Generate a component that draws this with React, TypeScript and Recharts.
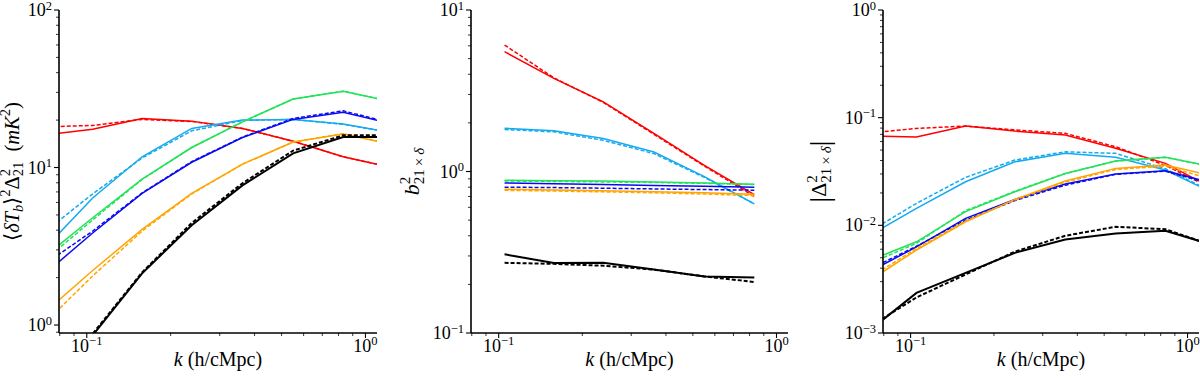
import React from "react"
import { LineChart, Line, XAxis, YAxis } from "recharts"

// k grid (h/cMpc)
const K_FULL = [0.0695, 0.105, 0.158, 0.238, 0.362, 0.55, 0.832, 1.26]
const K_BIAS = [0.105, 0.158, 0.238, 0.362, 0.55, 0.832]
const K_DOMAIN = [0.0795, 1.1]

// panel 1: <dTb>^2 Delta^2_21 (mK^2)
const p1RedSolid = [16.0, 17.5, 20.5, 19.7, 17.7, 14.7, 11.7, 9.95]
const p1RedDash = [18.1, 18.5, 20.2, 19.6, 17.7, 14.7, 11.7, 9.95]
const p1CyanSolid = [2.98, 6.4, 11.7, 17.7, 20.0, 20.2, 18.9, 16.6]
const p1CyanDash = [3.81, 6.8, 11.5, 17.1, 19.9, 20.2, 18.8, 16.6]
const p1GreenSolid = [2.66, 4.8, 8.45, 13.4, 19.5, 27.2, 30.5, 26.1]
const p1GreenDash = [2.52, 4.65, 8.4, 13.4, 19.5, 27.2, 30.5, 26.1]
const p1BlueSolid = [2.06, 3.84, 6.85, 10.8, 15.5, 20.2, 22.4, 18.9]
const p1BlueDash = [2.39, 3.95, 6.9, 10.9, 15.6, 20.5, 22.9, 19.0]
const p1OrangeSolid = [1.17, 2.22, 4.05, 6.85, 10.5, 14.5, 16.3, 13.96]
const p1OrangeDash = [1.0, 2.05, 3.95, 6.8, 10.5, 14.5, 16.4, 14.0]
const p1BlackSolid = [0.36, 0.86, 2.13, 4.3, 7.7, 12.3, 15.6, 15.6]
const p1BlackDash = [0.37, 0.88, 2.16, 4.45, 7.95, 12.8, 16.0, 16.0]

// panel 2: b^2_{21 x delta}
const p2RedSolid = [5.52, 3.77, 2.7, 1.72, 1.09, 0.72]
const p2RedDash = [6.07, 3.8, 2.68, 1.7, 1.08, 0.7]
const p2CyanSolid = [1.85, 1.79, 1.6, 1.32, 0.93, 0.63]
const p2CyanDash = [1.82, 1.76, 1.56, 1.29, 0.92, 0.63]
const p2GreenSolid = [0.883, 0.878, 0.872, 0.862, 0.85, 0.835]
const p2GreenDash = [0.873, 0.868, 0.862, 0.855, 0.845, 0.83]
const p2BlueSolid = [0.85, 0.84, 0.83, 0.82, 0.81, 0.8]
const p2BlueDash = [0.8, 0.795, 0.788, 0.78, 0.773, 0.766]
const p2OrangeSolid = [0.776, 0.768, 0.76, 0.75, 0.738, 0.723]
const p2OrangeDash = [0.765, 0.757, 0.748, 0.738, 0.725, 0.71]
const p2BlackSolid = [0.307, 0.271, 0.272, 0.247, 0.224, 0.221]
const p2BlackDash = [0.272, 0.268, 0.261, 0.247, 0.224, 0.207]

// panel 3: |Delta^2_{21 x delta}|
const p3RedSolid = [0.068, 0.066, 0.0836, 0.075, 0.069, 0.052, 0.0376, 0.0215]
const p3RedDash = [0.0715, 0.0795, 0.0835, 0.077, 0.0715, 0.0537, 0.036, 0.0212]
const p3CyanSolid = [0.0078, 0.0144, 0.0254, 0.0389, 0.0466, 0.0428, 0.0326, 0.0195]
const p3CyanDash = [0.00846, 0.016, 0.0279, 0.0404, 0.0482, 0.0466, 0.0335, 0.0198]
const p3GreenSolid = [0.0046, 0.00703, 0.0134, 0.0205, 0.0303, 0.0395, 0.0428, 0.0346]
const p3GreenDash = [0.00431, 0.0068, 0.0137, 0.0207, 0.0303, 0.0395, 0.0428, 0.0346]
const p3BlueSolid = [0.0036, 0.0063, 0.0116, 0.0174, 0.0242, 0.0299, 0.0321, 0.0244]
const p3BlueDash = [0.0038, 0.0064, 0.0112, 0.017, 0.0236, 0.0298, 0.0318, 0.0236]
const p3OrangeSolid = [0.00296, 0.0059, 0.0108, 0.0174, 0.0258, 0.0338, 0.0363, 0.0285]
const p3OrangeDash = [0.00315, 0.0061, 0.011, 0.0172, 0.0252, 0.033, 0.0355, 0.0262]
const p3BlackSolid = [0.00101, 0.00236, 0.00362, 0.00555, 0.0074, 0.0084, 0.0089, 0.00646]
const p3BlackDash = [0.0011, 0.00214, 0.0035, 0.0057, 0.008, 0.0097, 0.0092, 0.00638]

const COLORS: Record<string, string> = {
  red: "#ff0000",
  cyan: "#14aaf0",
  green: "#22e35a",
  blue: "#0a0af0",
  orange: "#ffa500",
  black: "#000000",
}

const SERIF_NAME = "'Liberation Serif', 'Times New Roman', Times, serif"
const SERIF: React.CSSProperties = { fontFamily: SERIF_NAME }

type Series = { key: string; color: string; dashed: boolean; values: number[] }

function buildRows(ks: number[], series: Series[]) {
  return ks.map((k, i) => {
    const row: Record<string, number> = { k }
    series.forEach((s) => (row[s.key] = s.values[i]))
    return row
  })
}

function seriesList(vals: number[][]): Series[] {
  const names = ["red", "cyan", "green", "blue", "orange", "black"]
  const out: Series[] = []
  names.forEach((n, i) => {
    out.push({ key: n + "S", color: COLORS[n], dashed: false, values: vals[i * 2] })
    out.push({ key: n + "D", color: COLORS[n], dashed: true, values: vals[i * 2 + 1] })
  })
  return out
}

const panel1 = seriesList([
  p1RedSolid, p1RedDash, p1CyanSolid, p1CyanDash, p1GreenSolid, p1GreenDash,
  p1BlueSolid, p1BlueDash, p1OrangeSolid, p1OrangeDash, p1BlackSolid, p1BlackDash,
])
const panel2 = seriesList([
  p2RedSolid, p2RedDash, p2CyanSolid, p2CyanDash, p2GreenSolid, p2GreenDash,
  p2BlueSolid, p2BlueDash, p2OrangeSolid, p2OrangeDash, p2BlackSolid, p2BlackDash,
])
const panel3 = seriesList([
  p3RedSolid, p3RedDash, p3CyanSolid, p3CyanDash, p3GreenSolid, p3GreenDash,
  p3BlueSolid, p3BlueDash, p3OrangeSolid, p3OrangeDash, p3BlackSolid, p3BlackDash,
])

// log-axis tick positions (decades + minor ticks) inside [lo, hi]
function logTicks(lo: number, hi: number) {
  const out: number[] = []
  for (let e = Math.floor(Math.log10(lo)); e <= Math.ceil(Math.log10(hi)); e++) {
    for (let m = 1; m < 10; m++) {
      const v = +(m * Math.pow(10, e)).toPrecision(6)
      if (v >= lo * 0.9999 && v <= hi * 1.0001) out.push(v)
    }
  }
  return out
}

const decadeExp = (v: number) => {
  const l = Math.log10(v)
  return Math.abs(l - Math.round(l)) < 1e-6 ? Math.round(l) : null
}

const expText = (e: number) => (e < 0 ? "\u2212" + Math.abs(e) : String(e))

function YTick(props: any) {
  const { x, y, payload } = props
  const e = decadeExp(payload.value)
  const len = e !== null ? 5 : 3
  return (
    <g>
      <line x1={x} x2={x - len} y1={y} y2={y} stroke="#000" strokeWidth={e !== null ? 1.1 : 0.8} />
      {e !== null && (
        <text x={x - 7} y={y + 6} textAnchor="end" fontFamily={SERIF_NAME} style={SERIF} fontSize={18} fill="#000">
          10<tspan dy={-6.5} fontSize={12.5}>{expText(e)}</tspan>
        </text>
      )}
    </g>
  )
}

function XTick(props: any) {
  const { x, y, payload } = props
  const e = decadeExp(payload.value)
  const len = e !== null ? 5 : 3
  return (
    <g>
      <line x1={x} x2={x} y1={y} y2={y + len} stroke="#000" strokeWidth={e !== null ? 1.1 : 0.8} />
      {e !== null && (
        <text x={x} y={y + 19} textAnchor="middle" fontFamily={SERIF_NAME} style={SERIF} fontSize={18} fill="#000">
          10<tspan dy={-7} fontSize={12.5}>{expText(e)}</tspan>
        </text>
      )}
    </g>
  )
}

const FRAME = { stroke: "#000", strokeWidth: 1.6 }

interface PanelProps {
  ks: number[]
  series: Series[]
  yDomain: [number, number]
  yWidth: number
  right: number
}

function Panel({ ks, series, yDomain, yWidth, right }: PanelProps) {
  const rows = buildRows(ks, series)
  return (
    <LineChart width={400} height={380} data={rows} margin={{ top: 10, right, bottom: 0, left: 0 }}>
      <XAxis
        dataKey="k"
        type="number"
        scale="log"
        domain={K_DOMAIN}
        allowDataOverflow
        ticks={logTicks(K_DOMAIN[0], K_DOMAIN[1])}
        interval={0}
        tick={XTick}
        tickLine={false}
        tickSize={0}
        tickMargin={0}
        axisLine={FRAME}
        height={47}
      />
      <XAxis
        xAxisId="top"
        orientation="top"
        type="number"
        scale="log"
        domain={K_DOMAIN}
        allowDataOverflow
        tick={false}
        tickLine={false}
        axisLine={FRAME}
        height={0}
      />
      <YAxis
        type="number"
        scale="log"
        domain={yDomain}
        allowDataOverflow
        ticks={logTicks(yDomain[0], yDomain[1])}
        interval={0}
        tick={YTick}
        tickLine={false}
        tickSize={0}
        tickMargin={0}
        axisLine={FRAME}
        width={yWidth}
      />
      <YAxis
        yAxisId="right"
        orientation="right"
        type="number"
        scale="log"
        domain={yDomain}
        allowDataOverflow
        tick={false}
        tickLine={false}
        axisLine={FRAME}
        width={0}
      />
      {series.map((s) => (
        <Line
          key={s.key}
          dataKey={s.key}
          type="linear"
          stroke={s.color}
          strokeWidth={s.color === "#000000" ? 2 : 1.5}
          strokeDasharray={s.dashed ? "4 2" : undefined}
          dot={false}
          activeDot={false}
          isAnimationActive={false}
        />
      ))}
    </LineChart>
  )
}

function Labels() {
  const xl = (cx: number) => (
    <text x={cx} y={366} textAnchor="middle" fontFamily={SERIF_NAME} style={SERIF} fontSize={20} fill="#000">
      <tspan fontStyle="italic">k</tspan> (h/cMpc)
    </text>
  )
  return (
    <svg width={1200} height={380} style={{ position: "absolute", left: 0, top: 0, pointerEvents: "none" }}>
      {xl(218)}
      {xl(629.5)}
      {xl(1041)}
      <text
        transform="translate(19,171.5) rotate(-90)"
        textAnchor="middle"
        fontFamily={SERIF_NAME}
        style={SERIF}
        fontSize={20.5}
        fill="#000"
      >
        {"\u27E8"}
        <tspan fontStyle="italic">{"\u03B4T"}</tspan>
        <tspan fontStyle="italic" fontSize={14.5} dy={4}>b</tspan>
        <tspan dy={-4}>{"\u27E9"}</tspan>
        <tspan fontSize={14.5} dy={-9}>2</tspan>
        <tspan dy={9}>{"\u0394"}</tspan>
        <tspan fontSize={14.5} dy={-9}>2</tspan>
        <tspan fontSize={14.5} dx={-7.3} dy={13}>21</tspan>
        <tspan dy={-4}>{"\u2002("}</tspan>
        <tspan fontStyle="italic">mK</tspan>
        <tspan fontSize={14.5} dy={-9}>2</tspan>
        <tspan dy={9}>)</tspan>
      </text>
      <text
        transform="translate(419,171.5) rotate(-90)"
        textAnchor="middle"
        fontFamily={SERIF_NAME}
        style={SERIF}
        fontSize={22}
        fill="#000"
      >
        <tspan fontStyle="italic">b</tspan>
        <tspan fontSize={15} dy={-9}>2</tspan>
        <tspan fontSize={15} dx={-7.5} dy={14}>
          21{"\u2009\u00D7\u2009"}<tspan fontStyle="italic">{"\u03B4"}</tspan>
        </tspan>
      </text>
      <text
        transform="translate(826,171.5) rotate(-90)"
        textAnchor="middle"
        fontFamily={SERIF_NAME}
        style={SERIF}
        fontSize={22}
        fill="#000"
      >
        <tspan fontSize={28} dy={3}>|</tspan>
        <tspan dy={-3}>{"\u0394"}</tspan>
        <tspan fontSize={15} dy={-9}>2</tspan>
        <tspan fontSize={15} dx={-7.5} dy={14}>
          21{"\u2009\u00D7\u2009"}<tspan fontStyle="italic">{"\u03B4"}</tspan>
        </tspan>
        <tspan fontSize={28} dy={-2}>|</tspan>
      </text>
    </svg>
  )
}

export default function App() {
  return (
    <div
      style={{
        position: "absolute",
        left: 0,
        top: 0,
        width: 1200,
        height: 380,
        background: "#fff",
        fontFamily: SERIF_NAME,
      }}
    >
      <div style={{ position: "absolute", left: 0, top: 0 }}>
        <Panel ks={K_FULL} series={panel1} yDomain={[0.89, 100]} yWidth={59} right={23} />
      </div>
      <div style={{ position: "absolute", left: 400, top: 0 }}>
        <Panel ks={K_BIAS} series={panel2} yDomain={[0.1, 10]} yWidth={71} right={12} />
      </div>
      <div style={{ position: "absolute", left: 800, top: 0 }}>
        <Panel ks={K_FULL} series={panel3} yDomain={[0.001, 1]} yWidth={83} right={1} />
      </div>
      <Labels />
    </div>
  )
}
